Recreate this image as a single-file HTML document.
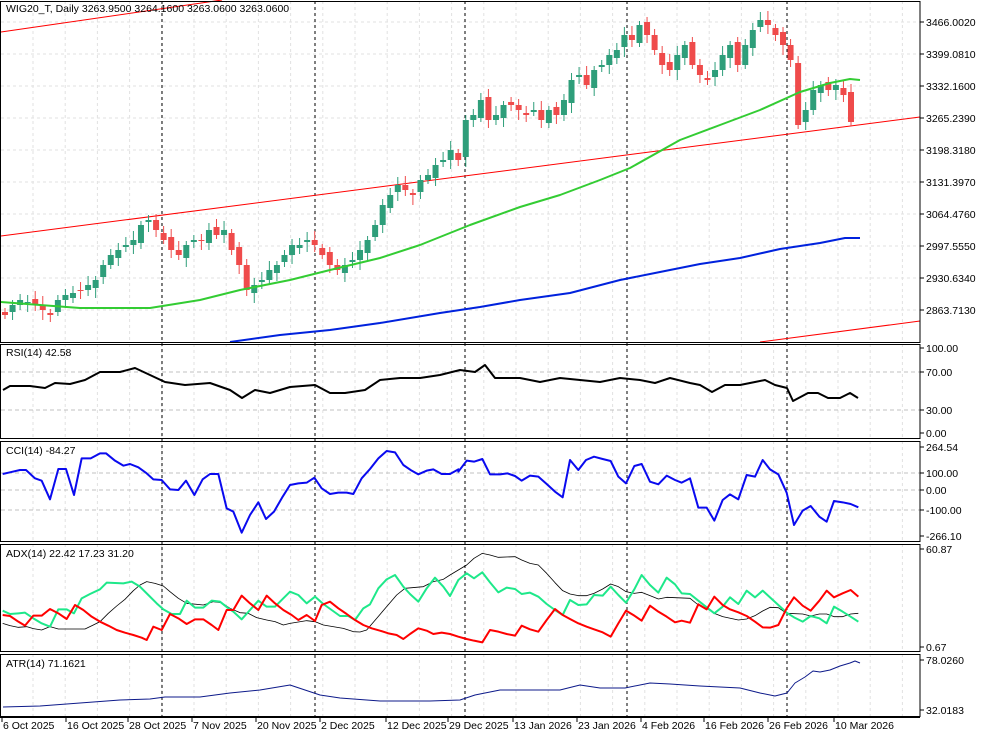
<!DOCTYPE html>
<html><head><meta charset="utf-8"><style>
body{margin:0;background:#fff;}
svg{display:block;font-family:"Liberation Sans",sans-serif;font-size:10.5px;}
</style></head><body>
<svg id="s" width="983" height="737" xmlns="http://www.w3.org/2000/svg">
<rect width="983" height="737" fill="#fff"/>
<g id="grid"></g>
<g id="main"></g>
<g id="fr" fill="none" stroke="#000" stroke-width="1"></g>
<g id="txt" fill="#000"></g>
</svg>
<script>
const NS="http://www.w3.org/2000/svg";
function el(p,t,a,txt){const e=document.createElementNS(NS,t);for(const k in a)e.setAttribute(k,a[k]);if(txt!==undefined)e.textContent=txt;document.getElementById(p).appendChild(e);return e;}
const R=920;
const panels=[[1,342],[344,438],[441,541],[544,651],[654,716]];
for(let x=33;x<R;x+=32.2){panels.forEach(p=>el('grid','line',{x1:x,x2:x,y1:p[0],y2:p[1],stroke:'#e2e2e2','stroke-dasharray':'3,3'}));}
for(let i=0;i<10;i++){const y=22+i*32;el('grid','line',{x1:1,x2:R,y1:y,y2:y,stroke:'#e2e2e2','stroke-dasharray':'3,3'});}
[372,410].forEach(y=>el('grid','line',{x1:1,x2:R,y1:y,y2:y,stroke:'#c0c0c0','stroke-dasharray':'4,3'}));
[473,490,510].forEach(y=>el('grid','line',{x1:1,x2:R,y1:y,y2:y,stroke:'#c0c0c0','stroke-dasharray':'4,3'}));
[162,315,465,627,787].forEach(x=>el('grid','line',{x1:x,x2:x,y1:1,y2:716,stroke:'#000','stroke-dasharray':'3,3'}));
el('main','line',{x1:1,y1:32,x2:222,y2:0,stroke:'#f00'});
el('main','line',{x1:1,y1:236,x2:R,y2:117,stroke:'#f00'});
el('main','line',{x1:760,y1:342,x2:R,y2:321,stroke:'#f00'});
const ys=[315,305,300,302,305,310,315,300,295,293,290,285,280,265,255,250,245,240,225,220,230,240,250,255,245,240,240,230,235,230,250,265,290,285,280,270,265,255,245,245,240,245,255,265,270,265,260,250,240,225,205,195,185,190,195,180,175,165,160,150,160,120,115,100,120,115,105,105,110,115,110,120,110,115,100,80,75,85,70,65,55,50,35,40,25,35,50,65,70,55,45,65,75,80,70,55,45,65,45,30,20,25,35,45,60,125,110,90,85,90,85,95,122];
const n=ys.length,dx=(851-5)/(n-1);
let prev=312;
for(let i=0;i<n;i++){const x=5+i*dx,c=ys[i],o=prev;const up=c<o;const top=Math.min(o,c),bot=Math.max(o,c);
const w1=4+(i*7%6),w2=4+(i*11%7);
el('main','line',{x1:x,x2:x,y1:top-w1,y2:bot+w2,stroke:up?'#2e9e7a':'#ef4b4b'});
el('main','rect',{x:x-3,y:top,width:6,height:Math.max(1,bot-top),fill:up?'#2e9e7a':'#ef4b4b'});
prev=c+((i%3)-1)*3;}
function pl(pts,col,w,p){el(p||'main','polyline',{points:pts.map(a=>a.join(',')).join(' '),fill:'none',stroke:col,'stroke-width':w,'stroke-linejoin':'round'});}
pl([[1,302],[40,305],[80,308],[150,308],[200,300],[240,290],[290,280],[330,270],[380,258],[420,245],[470,225],[520,207],[560,195],[600,180],[630,168],[680,140],[720,125],[760,110],[800,92],[830,83],[850,79],[860,80]],'#33cc33',2);
pl([[230,342],[280,335],[330,330],[380,323],[440,313],[480,307],[520,300],[570,293],[620,280],[660,272],[700,264],[740,258],[780,249],[820,243],[845,238],[860,238]],'#0022dd',2);
pl([[3,390],[10,386],[30,386],[45,388],[55,383],[70,384],[85,380],[100,372],[120,372],[135,368],[150,375],[165,382],[185,385],[210,383],[230,390],[242,398],[255,390],[270,393],[290,387],[315,385],[330,393],[345,393],[365,390],[380,380],[400,378],[420,378],[440,375],[460,370],[475,372],[485,365],[495,378],[520,378],[540,382],[560,378],[580,380],[600,382],[620,378],[640,380],[655,383],[670,378],[690,383],[700,385],[712,392],[725,385],[740,385],[755,382],[765,380],[775,385],[787,388],[793,401],[808,393],[818,393],[828,398],[840,398],[850,393],[858,398]],'#000',2);
const cl=[[8,102],[30,97],[60,90],[78,90],[105,115],[125,122],[150,178],[175,87],[198,87],[222,165],[245,55],[272,55],[300,40],[318,40],[345,62],[370,77],[390,72],[415,82],[440,100],[460,118],[485,120],[510,148],[535,150],[558,122],[583,165],[608,118],[630,102],[655,102],[680,205],[700,215],[725,278],[750,225],[775,187],[798,237],[822,215],[848,170],[870,135],[895,130],[920,128],[943,113],[965,145],[990,162],[1015,158],[1040,158],[1060,162],[1085,115],[1110,87],[1135,55],[1160,33],[1185,37],[1210,75],[1235,92],[1255,103],[1280,92],[1300,88],[1325,102],[1350,102],[1375,88]].map(a=>[a[0]/3,440+a[1]/3]);
const cr=[[25,95],[50,62],[72,65],[97,57],[120,103],[150,103],[172,100],[195,108],[215,122],[240,107],[265,110],[290,132],[315,155],[338,172],[360,60],[385,90],[408,60],[432,50],[458,57],[482,63],[505,110],[528,130],[553,78],[575,72],[600,125],[625,133],[650,107],[675,120],[695,128],[720,115],[745,203],[770,203],[793,242],[818,180],[840,163],[865,178],[890,105],[915,110],[938,60],[960,88],[985,103],[1010,158],[1032,255],[1058,212],[1082,198],[1108,230],[1130,245],[1152,183],[1178,187],[1202,192],[1225,202]].map(a=>[450+a[0]/3,440+a[1]/3]);
pl(cl.concat(cr),'#0a0aef',2);
const L=a=>a.map(p=>[p[0]/3,440+p[1]/3]),Rr=a=>a.map(p=>[450+p[0]/3,440+p[1]/3]);
const bl=L([[8,550],[30,557],[55,562],[80,560],[100,566],[125,570],[150,560],[175,567],[255,567],[280,555],[300,545],[325,520],[350,498],[375,478],[400,452],[420,435],[440,425],[465,430],[490,438],[510,455],[535,475],[560,490],[610,495],[640,485],[665,488],[690,505],[720,518],[745,520],[770,533],[800,540],[825,545],[850,555],[870,550],[920,542],[945,545],[970,555],[1030,565],[1060,575],[1080,576],[1100,570],[1130,535],[1160,500],[1190,465],[1215,445],[1270,440],[1300,425],[1330,418]]).concat(Rr([[0,405],[25,390],[50,375],[72,355],[97,340],[120,345],[145,352],[195,350],[215,360],[240,370],[265,375],[290,400],[315,428],[338,452],[360,462],[385,467],[410,467],[432,460],[458,447],[482,432],[505,440],[528,455],[553,460],[575,457],[600,467],[625,477],[650,472],[720,475],[745,495],[770,505],[793,520],[818,530],[865,540],[890,537],[915,527],[938,513],[960,502],[985,503],[1010,520],[1058,522],[1082,528],[1108,522],[1130,522],[1152,530],[1178,530],[1202,522],[1225,520]]));
const gr=L([[8,512],[30,522],[55,520],[75,518],[100,535],[125,550],[150,560],[175,508],[200,508],[222,520],[245,475],[270,462],[300,448],[320,428],[370,430],[395,425],[420,440],[445,465],[470,490],[490,508],[515,522],[540,522],[560,482],[585,503],[610,503],[635,482],[660,485],[685,505],[700,515],[725,538],[750,510],[775,482],[800,500],[825,500],[850,475],[870,455],[895,465],[920,490],[945,470],[970,492],[995,510],[1020,528],[1045,528],[1065,540],[1090,505],[1110,493],[1135,445],[1160,418],[1185,405],[1210,440],[1230,462],[1255,485],[1280,445],[1305,413],[1330,440]]).concat(Rr([[0,468],[25,420],[50,400],[72,415],[97,397],[120,427],[145,457],[170,443],[195,447],[215,462],[240,458],[265,470],[290,492],[315,510],[338,525],[360,480],[385,495],[410,493],[432,465],[458,467],[482,440],[505,465],[528,488],[553,448],[575,405],[600,435],[625,458],[650,413],[675,433],[695,460],[720,462],[745,482],[770,502],[793,520],[818,500],[840,472],[865,492],[890,452],[915,472],[938,452],[960,472],[985,495],[1010,518],[1032,532],[1058,545],[1082,528],[1108,535],[1130,550],[1152,500],[1178,515],[1202,530],[1225,545]]));
const rd=L([[8,525],[30,528],[55,545],[75,557],[100,527],[125,527],[150,507],[175,520],[200,537],[225,495],[250,510],[275,530],[300,545],[325,557],[350,570],[375,578],[400,585],[425,593],[440,600],[460,560],[485,570],[510,522],[535,535],[560,552],[585,538],[610,538],[635,555],[655,570],[680,510],[700,510],[725,467],[750,490],[775,510],[800,467],[825,490],[850,510],[875,525],[895,540],[920,525],[945,543],[965,495],[990,485],[1015,505],[1040,522],[1065,540],[1090,555],[1115,565],[1140,572],[1165,580],[1190,585],[1210,597],[1230,582],[1255,565],[1280,572],[1300,582],[1325,578]]).concat(Rr([[0,582],[25,590],[50,597],[72,602],[97,607],[120,570],[145,575],[170,582],[195,587],[215,557],[240,568],[265,575],[290,540],[315,507],[338,525],[360,537],[385,550],[410,560],[432,568],[458,577],[482,590],[505,550],[528,512],[553,527],[575,542],[600,497],[625,515],[650,530],[675,547],[695,542],[720,548],[745,493],[770,508],[793,470],[818,495],[840,508],[865,517],[890,528],[915,545],[938,562],[960,563],[985,555],[1010,505],[1032,472],[1058,497],[1082,512],[1108,482],[1130,452],[1152,472],[1178,460],[1202,450],[1225,470]]));
pl(bl,'#000',0.8);pl(gr,'#1ee88a',2);pl(rd,'#f00',2);
pl([[3,707],[40,706],[80,703],[120,700],[150,699],[165,697],[200,697],[230,693],[260,690],[290,685],[305,690],[320,695],[340,698],[380,701],[430,701],[460,700],[475,695],[500,690],[530,690],[560,690],[580,685],[600,688],[625,688],[650,683],[670,684],[700,686],[740,688],[760,693],[775,696],[787,693],[795,683],[805,677],[813,671],[820,672],[830,670],[840,666],[850,663],[855,661],[860,663]],'#0d1a8a',1);
panels.forEach(p=>el('fr','rect',{x:0.5,y:p[0]+0.5,width:R-0.5,height:p[1]-p[0]}));
el('fr','line',{x1:0,x2:R,y1:717.5,y2:717.5});
function lab(y,t){el('txt','line',{x1:R,x2:R+4,y1:y,y2:y,stroke:'#000'});el('txt','text',{x:R+6,y:y+4},t);}
['3466.0020','3399.0810','3332.1600','3265.2390','3198.3180','3131.3970','3064.4760','2997.5550','2930.6340','2863.7130'].forEach((t,i)=>lab(22+i*32,t));
lab(348,'100.00');lab(372,'70.00');lab(410,'30.00');lab(433,'0.00');
lab(447,'264.54');lab(473,'100.00');lab(490,'0.00');lab(510,'-100.00');lab(536,'-266.10');
lab(549,'60.87');lab(647,'0.67');lab(660,'78.0260');lab(710,'32.0183');
[[2,'6 Oct 2025'],[66,'16 Oct 2025'],[128,'28 Oct 2025'],[192,'7 Nov 2025'],[256,'20 Nov 2025'],[320,'2 Dec 2025'],[386,'12 Dec 2025'],[448,'29 Dec 2025'],[513,'13 Jan 2026'],[577,'23 Jan 2026'],[641,'4 Feb 2026'],[704,'16 Feb 2026'],[768,'26 Feb 2026'],[834,'10 Mar 2026']].forEach(a=>{el('txt','line',{x1:a[0],x2:a[0],y1:717,y2:722,stroke:'#000'});el('txt','text',{x:a[0]+1,y:729},a[1]);});
el('txt','text',{x:6,y:12},'WIG20_T, Daily  3263.9500 3264.1600 3263.0600 3263.0600');
el('txt','text',{x:6,y:356},'RSI(14) 42.58');
el('txt','text',{x:6,y:454},'CCI(14) -84.27');
el('txt','text',{x:6,y:557},'ADX(14) 22.42  17.23  31.20');
el('txt','text',{x:6,y:667},'ATR(14) 71.1621');
</script>
</body></html>
